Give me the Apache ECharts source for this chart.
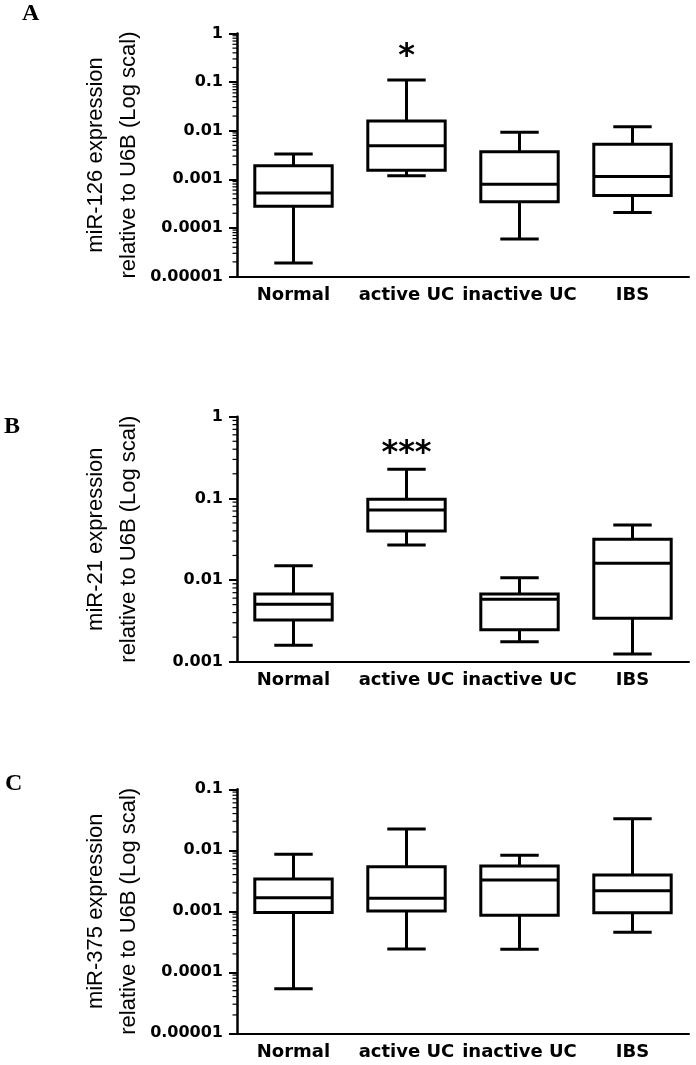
<!DOCTYPE html>
<html><head><meta charset="utf-8">
<script src="https://cdn.jsdelivr.net/npm/echarts@6/dist/echarts.min.js"></script>
<style>html,body{margin:0;padding:0;background:#fff}#c{width:696px;height:1065px}</style>
</head><body><div id="c"></div>
<script>
const categories = ['Normal', 'active UC', 'inactive UC', 'IBS'];
// each entry: [min, Q1, median, Q3, max]
const mir126Boxes = [
  [0.000019, 0.00028, 0.00052, 0.0019, 0.0033],
  [0.00118, 0.00154, 0.0049, 0.0159, 0.111],
  [0.0000589, 0.000344, 0.00079, 0.0037, 0.0093],
  [0.000207, 0.000463, 0.00114, 0.00527, 0.0121]
];
const mir21Boxes = [
  [0.00159, 0.00324, 0.00505, 0.00675, 0.015],
  [0.0269, 0.0398, 0.0721, 0.0975, 0.227],
  [0.00176, 0.00247, 0.0058, 0.00675, 0.0107],
  [0.00124, 0.0034, 0.016, 0.0315, 0.0472]
];
const mir375Boxes = [
  [0.0000539, 0.00096, 0.00167, 0.00339, 0.0086],
  [0.000241, 0.00101, 0.00163, 0.00538, 0.0223],
  [0.000238, 0.00086, 0.00326, 0.00553, 0.00828],
  [0.000453, 0.00095, 0.00218, 0.00394, 0.033]
];
const mir126Stars = ['', '*', '', ''];
const mir21Stars = ['', '***', '', ''];
const mir375Stars = ['', '', '', ''];
const starLevel = 0.4;
const yTicksA = ['0.00001', '0.0001', '0.001', '0.01', '0.1', '1'];
const yTicksB = ['0.001', '0.01', '0.1', '1'];
const yTicksC = ['0.00001', '0.0001', '0.001', '0.01', '0.1'];
const minorSteps = [2, 3, 4, 5, 6, 7, 8, 9];
const yTitles = [
  'miR-126 expression\nrelative to U6B (Log scal)',
  'miR-21 expression\nrelative to U6B (Log scal)',
  'miR-375 expression\nrelative to U6B (Log scal)'
];
const panelLetters = ['A', 'B', 'C'];

const panels = [
  { boxes: mir126Boxes, stars: mir126Stars, ticks: yTicksA, title: yTitles[0], top: 33.5, height: 243 },
  { boxes: mir21Boxes, stars: mir21Stars, ticks: yTicksB, title: yTitles[1], top: 416.7, height: 245 },
  { boxes: mir375Boxes, stars: mir375Stars, ticks: yTicksC, title: yTitles[2], top: 789.3, height: 244 }
];
const letterPos = [[31, 14], [13, 427], [14, 784]];

const chart = echarts.init(document.getElementById('c'), null, { renderer: 'canvas' });

function boxRender(params, api) {
  const i = api.value(0);
  const band = params.coordSys.width / categories.length;
  const bw = band * 0.685, cw = band * 0.34;
  const x = api.coord([i, api.value(3)])[0];
  const yMin = api.coord([i, api.value(1)])[1];
  const yQ1 = api.coord([i, api.value(2)])[1];
  const yMed = api.coord([i, api.value(3)])[1];
  const yQ3 = api.coord([i, api.value(4)])[1];
  const yMax = api.coord([i, api.value(5)])[1];
  const st = { stroke: '#000', lineWidth: 3, fill: null };
  return {
    type: 'group',
    children: [
      { type: 'line', shape: { x1: x, y1: yMax, x2: x, y2: yQ3 }, style: st },
      { type: 'line', shape: { x1: x, y1: yQ1, x2: x, y2: yMin }, style: st },
      { type: 'line', shape: { x1: x - cw / 2, y1: yMax, x2: x + cw / 2, y2: yMax }, style: st },
      { type: 'line', shape: { x1: x - cw / 2, y1: yMin, x2: x + cw / 2, y2: yMin }, style: st },
      { type: 'rect', shape: { x: x - bw / 2, y: yQ3, width: bw, height: yQ1 - yQ3 }, style: { stroke: '#000', lineWidth: 3, fill: '#fff' } },
      { type: 'line', shape: { x1: x - bw / 2, y1: yMed, x2: x + bw / 2, y2: yMed }, style: st }
    ]
  };
}

const starsBySeries = {};
function starRender(params, api) {
  const i = api.value(0);
  const p = api.coord([i, api.value(1)]);
  const txt = starsBySeries[params.seriesIndex][i];
  return {
    type: 'text',
    style: { text: txt, x: p[0], y: p[1] + 4, align: 'center', verticalAlign: 'middle',
      font: 'bold 32px "DejaVu Sans"', fill: '#000' }
  };
}

function minorTickRender(params, api) {
  const p = api.coord([0, api.value(0)]);
  const x0 = params.coordSys.x;
  return {
    type: 'line',
    shape: { x1: x0 - 4.5, y1: p[1], x2: x0, y2: p[1] },
    style: { stroke: '#000', lineWidth: 1.2 }
  };
}

const grids = [], xAxes = [], yAxes = [], series = [], graphics = [];
panels.forEach((pn, k) => {
  grids.push({ left: 237, right: 7, top: pn.top, height: pn.height });
  xAxes.push({
    type: 'category', gridIndex: k, data: categories, boundaryGap: true,
    axisLine: { lineStyle: { color: '#000', width: 2 } },
    axisTick: { alignWithLabel: true, length: 6, lineStyle: { color: '#000', width: 2 } },
    axisLabel: { color: '#000', fontFamily: 'DejaVu Sans', fontWeight: 'bold', fontSize: 18, margin: 10, interval: 0 },
    splitLine: { show: false }
  });
  const labels = pn.ticks;
  yAxes.push({
    type: 'log', logBase: 10, gridIndex: k,
    min: Number(labels[0]), max: Number(labels[labels.length - 1]),
    name: pn.title, nameLocation: 'middle', nameRotate: 90, nameGap: 92, nameMoveOverlap: false,
    nameTextStyle: { color: '#000', fontFamily: 'Liberation Sans', fontSize: 22, lineHeight: 33 },
    axisLine: { show: true, lineStyle: { color: '#000', width: 2.5 } },
    axisTick: { show: true, length: 8, lineStyle: { color: '#000', width: 2 } },
    minorTick: { show: false },
    axisLabel: {
      color: '#000', fontFamily: 'DejaVu Sans', fontWeight: 'bold', fontSize: 16, margin: 14,
      formatter: function (v) {
        const f = labels.find(l => Math.abs(Math.log10(Number(l)) - Math.log10(v)) < 0.01);
        return f || '';
      }
    },
    splitLine: { show: false }, minorSplitLine: { show: false }
  });
  // minor log ticks (2..9 within each decade)
  const minorVals = [];
  for (let d = 0; d < labels.length - 1; d++) {
    minorSteps.forEach(s => minorVals.push([s * Number(labels[d])]));
  }
  series.push({
    type: 'custom', xAxisIndex: k, yAxisIndex: k,
    data: minorVals, encode: { y: 0 },
    renderItem: minorTickRender, silent: true, clip: false
  });
  series.push({
    type: 'custom', xAxisIndex: k, yAxisIndex: k,
    data: pn.boxes.map((b, i) => [i].concat(b)),
    encode: { x: 0, y: [1, 2, 3, 4, 5] },
    renderItem: boxRender, silent: true
  });
  graphics.push({
    type: 'text', left: letterPos[k][0] - 9, top: letterPos[k][1] - 12,
    style: { text: panelLetters[k], font: 'bold 24px "Liberation Serif"', fill: '#000' }
  });
});
panels.forEach((pn, k) => {
  starsBySeries[series.length] = pn.stars;
  series.push({
    type: 'custom', xAxisIndex: k, yAxisIndex: k,
    data: pn.stars.map((s, i) => [i, starLevel]),
    encode: { x: 0, y: 1 },
    renderItem: starRender, silent: true
  });
});

chart.setOption({
  animation: false,
  backgroundColor: '#fff',
  grid: grids, xAxis: xAxes, yAxis: yAxes, series: series, graphic: graphics
});
</script>
</body></html>
